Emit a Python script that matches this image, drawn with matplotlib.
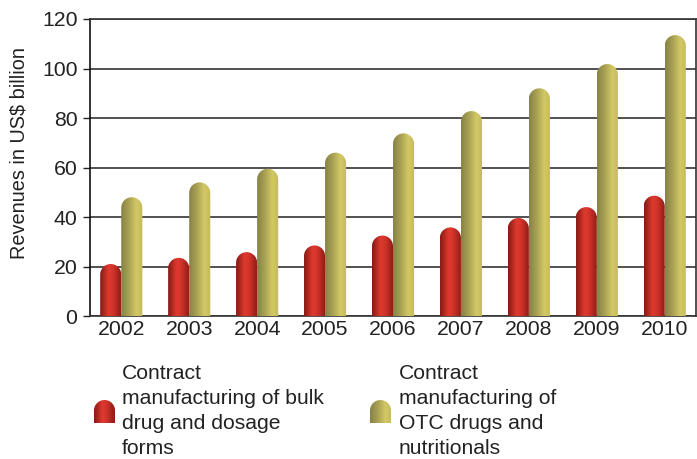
import numpy as np
import matplotlib.pyplot as plt
from matplotlib.path import Path
from matplotlib.patches import PathPatch
from matplotlib.colors import LinearSegmentedColormap

years = ['2002', '2003', '2004', '2005', '2006', '2007', '2008', '2009', '2010']
bulk = [21, 23.5, 25.8, 28.5, 32.5, 35.8, 39.6, 44, 48.6]
otc = [48, 54, 59.5, 66, 73.8, 82.8, 92, 101.8, 113.5]
labels = ['Contract\nmanufacturing of bulk\ndrug and dosage\nforms',
          'Contract\nmanufacturing of\nOTC drugs and\nnutritionals']

plt.rcParams['font.family'] = ['Liberation Sans', 'DejaVu Sans']

red_cmap = LinearSegmentedColormap.from_list(
    'red_cyl', [(0, '#861a14'), (0.4, '#e03a2f'), (0.6, '#d1342a'), (1, '#8a1b15')])
gold_cmap = LinearSegmentedColormap.from_list(
    'gold_cyl', [(0, '#878247'), (0.35, '#a8a153'), (0.7, '#d2c866'), (1, '#c4ba5e')])

W, H = 6.97, 4.59
fig = plt.figure(figsize=(W, H), dpi=100)
ax_pos = [90 / 697, 1 - 316 / 459, 606 / 697, 297 / 459]
ax = fig.add_axes(ax_pos)

ymax = 120
xlo, xhi = -0.46, 8.46
ax.set_xlim(xlo, xhi)
ax.set_ylim(0, ymax)

x = np.arange(len(years))
bw = 0.31
bars_bulk = ax.bar(x - bw / 2, bulk, bw, color='none', edgecolor='none')
bars_otc = ax.bar(x + bw / 2, otc, bw, color='none', edgecolor='none')

# pixel scale for the rounded caps
px_x = ax_pos[2] * W * 100 / (xhi - xlo)
px_y = ax_pos[3] * H * 100 / ymax


def cylinder(ax, x0, w, h, cmap, px_x, px_y):
    r = (w * px_x / 2) / px_y
    t = np.linspace(0, np.pi, 40)
    xc = x0 + w / 2
    arc = np.column_stack([xc + (w / 2) * np.cos(t), h - r + r * np.sin(t)])
    verts = np.vstack([[x0 + w, 0], [x0 + w, h - r], arc, [x0, h - r], [x0, 0], [x0 + w, 0]])
    codes = [Path.MOVETO] + [Path.LINETO] * (len(verts) - 2) + [Path.CLOSEPOLY]
    patch = PathPatch(Path(verts, codes), facecolor='none', edgecolor='none',
                      transform=ax.transData)
    ax.add_patch(patch)
    grad = np.linspace(0, 1, 64).reshape(1, -1)
    im = ax.imshow(grad, cmap=cmap, extent=(x0, x0 + w, 0, h), aspect='auto',
                   interpolation='bicubic', zorder=3)
    im.set_clip_path(patch)


for bars, cmap in [(bars_bulk, red_cmap), (bars_otc, gold_cmap)]:
    for b in bars:
        cylinder(ax, b.get_x(), b.get_width(), b.get_height(), cmap, px_x, px_y)

ax.set_xlim(xlo, xhi)
ax.set_ylim(0, ymax)
ax.set_yticks(np.arange(0, 121, 20))
ax.set_xticks(x)
ax.set_xticklabels(years)
ax.yaxis.grid(True, color='#333333', linewidth=1.2)
ax.set_axisbelow(True)
ax.tick_params(axis='x', length=0, pad=3, labelsize=15.3, colors='#222222')
ax.tick_params(axis='y', length=5, width=1, pad=4, labelsize=15.3, colors='#222222')
for s in ax.spines.values():
    s.set_color('#333333')
    s.set_linewidth(1.2)
ax.spines['left'].set_color('#111111')
ax.set_ylabel('Revenues in US$ billion', fontsize=14.3, color='#222222')
ax.yaxis.set_label_coords(-0.102, 0.549)

# legend drawn by hand
for i, (lab, cmap) in enumerate(zip(labels, [red_cmap, gold_cmap])):
    mx = [94, 370][i]
    lax = fig.add_axes([mx / 697, 1 - 423 / 459, 21 / 697, 23 / 459])
    lax.set_xlim(0, 1)
    lax.set_ylim(0, 1)
    lax.axis('off')
    cylinder(lax, 0, 1, 1, cmap, 21, 23)
    lax.set_xlim(0, 1)
    lax.set_ylim(0, 1)
    tx = [122, 399][i]
    fig.text(tx / 697, 1 - 364 / 459, lab, fontsize=15.2, va='top', ha='left',
             color='#222222', linespacing=1.4)

fig.savefig('out.png', dpi=100)
